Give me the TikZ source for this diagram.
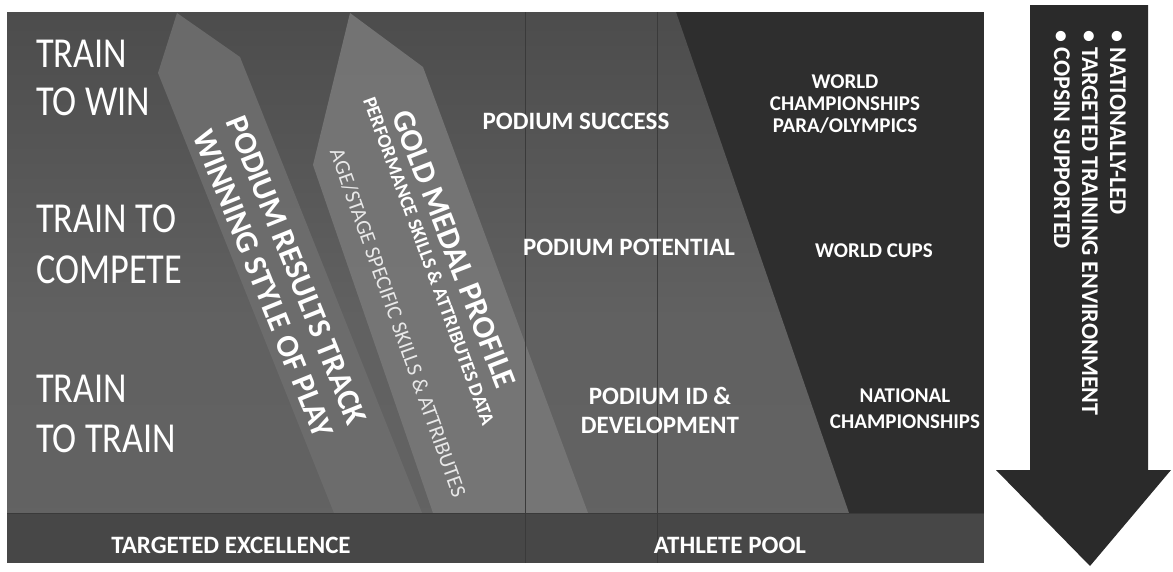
\documentclass[tikz,border=0pt]{standalone}
\usepackage{fontspec}
\setmainfont{Carlito}
\newfontfamily\thinfont[FakeStretch=0.85]{Carlito}
\definecolor{bgdark}{HTML}{2E2E2E}
\definecolor{arrowdark}{HTML}{2A2A2A}
\definecolor{zonelight}{HTML}{656565}
\definecolor{bandone}{HTML}{6E6E6E}
\definecolor{bandtwo}{HTML}{777777}
\definecolor{stripfill}{HTML}{474747}
\definecolor{gridcol}{HTML}{3A3A3A}
\pgfdeclareverticalshading{zoneshade}{100bp}{color(0bp)=(zonelight); color(45bp)=(zonelight!92!bgdark); color(75bp)=(zonelight!55!bgdark); color(100bp)=(bgdark!90!zonelight)}
\begin{document}
\begin{tikzpicture}[x=1pt,y=-1pt,
  lvl/.style={text=white, font=\thinfont\fontsize{42.7}{42.7}\selectfont, anchor=base west, inner sep=0pt},
  tag/.style={text=white, font=\bfseries\fontsize{25}{25}\selectfont, anchor=base, inner sep=0pt},
  evt/.style={text=white, font=\bfseries\fontsize{21}{21}\selectfont, anchor=base, inner sep=0pt},
  bandbig/.style={text=white, font=\bfseries\fontsize{32}{36}\selectfont, inner sep=0pt, align=center},
  bandsmall/.style={text=white, font=\bfseries\fontsize{19.5}{19.5}\selectfont, inner sep=0pt},
  bandthin/.style={text=white!82!gray, font=\fontsize{21.5}{21.5}\selectfont, inner sep=0pt},
  arrtxt/.style={text=white, font=\bfseries\fontsize{24}{28}\selectfont, inner sep=0pt, align=left},
  gridline/.style={draw=gridcol, line width=0.6pt}
]
\useasboundingbox (0,0) rectangle (1173,571);
\fill[white] (0,0) rectangle (1173,571);
% panel
\fill[bgdark] (7,12) rectangle (984,563);
% lighter zone
\shade[shading=zoneshade] (7,12) -- (676,12) -- (849,513) -- (7,513) -- cycle;
% bands
\fill[bandone, opacity=0.9] (158,73) -- (177,13) -- (240,57) -- (422,513) -- (334,513) -- cycle;
\fill[bandtwo, opacity=0.92] (350,13) -- (423,67) -- (588,513) -- (433,513) -- (313,165) -- cycle;
% bottom strip
\fill[stripfill] (7,513) rectangle (984,563);
\draw[gridline] (7,513) -- (984,513);
\draw[gridline] (525,12) -- (525,563);
\draw[gridline] (657,12) -- (657,563);
% level labels
\node[lvl] (l1a) at (36,67) {TRAIN};
\node[lvl] (l1b) at (36,115) {TO WIN};
\node[lvl] (l2a) at (36,232) {TRAIN TO};
\node[lvl] (l2b) at (36,283) {COMPETE};
\node[lvl] (l3a) at (36,402) {TRAIN};
\node[lvl] (l3b) at (36,452) {TO TRAIN};
% band texts
\node[bandbig, rotate=-68.1] (b1) at (280,277) {PODIUM RESULTS TRACK\\WINNING STYLE OF PLAY};
\node[bandbig, rotate=-68.8] (b2a) at (454,249) {GOLD MEDAL PROFILE};
\node[bandsmall, rotate=-69.8] (b2b) at (429,261) {PERFORMANCE SKILLS \& ATTRIBUTES DATA};
\node[bandthin, rotate=-70.4] (b2c) at (398,323) {AGE/STAGE SPECIFIC SKILLS \& ATTRIBUTES};
% middle labels
\node[tag] (ps) at (576,129) {PODIUM SUCCESS};
\node[tag] (pp) at (629,255) {PODIUM POTENTIAL};
\node[tag] (pid1) at (660,404) {PODIUM ID \&};
\node[tag] (pid2) at (660,433) {DEVELOPMENT};
\node[tag] (te) at (231,553) {TARGETED EXCELLENCE};
\node[tag] (ap) at (730,553) {ATHLETE POOL};
% event labels
\node[evt] (wc1) at (845,88) {WORLD};
\node[evt] (wc2) at (845,110) {CHAMPIONSHIPS};
\node[evt] (wc3) at (845,132) {PARA/OLYMPICS};
\node[evt] (wcu) at (874,257) {WORLD CUPS};
\node[evt] (nc1) at (905,402) {NATIONAL};
\node[evt] (nc2) at (905,428) {CHAMPIONSHIPS};
% arrow
\fill[arrowdark] (1030,5) -- (1148,5) -- (1148,470) -- (1171,470) -- (1090,566) -- (996,470) -- (1030,470) -- cycle;
\node[arrtxt, rotate=-90, anchor=north west] (arrtext) at (1126,30) {• NATIONALLY-LED\\• TARGETED TRAINING ENVIRONMENT\\• COPSIN SUPPORTED};
\end{tikzpicture}
\end{document}
